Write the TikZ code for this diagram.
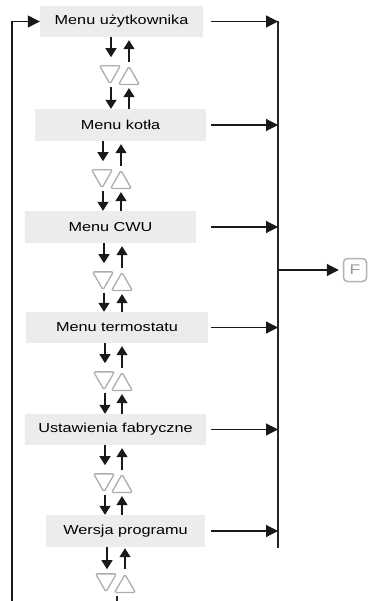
\documentclass[tikz,border=0pt]{standalone}
\usepackage{fontspec}
\setmainfont[FakeStretch=1.25]{Liberation Sans}
\usetikzlibrary{arrows.meta, calc, shapes.geometric}
\tikzset{
  mnbox/.style={rectangle, fill=gray!15, minimum height=31pt, inner sep=0pt, font=\fontsize{13}{14}\selectfont},
  mntri/.style={regular polygon, regular polygon sides=3, draw=black!32, line width=1.3pt, minimum size=24pt, inner sep=0pt, rounded corners=1.5pt, anchor=north},
  mndown/.style={mntri, shape border rotate=180},
  mnup/.style={mntri},
  mnstep/.style={-{Triangle[length=9pt, width=11pt]}, line width=1.3pt, draw=black!90},
  mnarrow/.style={-{Triangle[length=12pt, width=12pt]}, line width=1.2pt, draw=black!90},
  mnline/.style={line width=1.3pt, draw=black!85},
  mnkey/.style={rectangle, rounded corners=4pt, draw=black!30, line width=1.5pt, minimum width=23pt, minimum height=23pt, inner sep=0pt, text=black!40, font=\fontsize{14}{14}\selectfont},
}

\begin{document}
\begin{tikzpicture}[x=1pt, y=-1pt]
  \useasboundingbox (0,0) rectangle (368,601);

  % Menu entries.
  \node[mnbox, minimum width=163pt] (m1) at (121.5,21.5) {Menu użytkownika};
  \node[mnbox, minimum width=171pt, minimum height=32pt] (m2) at (120.5,125) {Menu kotła};
  \node[mnbox, minimum width=171pt, minimum height=32pt] (m3) at (110.5,227) {Menu CWU};
  \node[mnbox, minimum width=182pt] (m4) at (117,327.5) {Menu termostatu};
  \node[mnbox, minimum width=181pt] (m5) at (115.5,429.5) {Ustawienia fabryczne};
  \node[mnbox, minimum width=159pt, minimum height=32pt] (m6) at (125.5,531) {Wersja programu};

  % Up/down keys between entries.
  \foreach \a/\b/\xd/\xu [count=\i] in {m1/m2/111/129, m2/m3/103/121, m3/m4/104/122, m4/m5/105/122, m5/m6/105/122} {
    \coordinate (d\i) at (\xd,0);
    \coordinate (u\i) at (\xu,0);
    \node[mndown] (dt\i) at ($(\a.south -| d\i)+(-1,28)$) {};
    \node[mnup] (ut\i) at ($(\a.south -| u\i)+(0,28)$) {};
    \draw[mnstep] (\a.south -| d\i) -- ($(dt\i.north -| d\i)+(0,-8)$);
    \draw[mnstep] ($(dt\i.south -| d\i)+(0,2)$) -- (\b.north -| d\i);
    \draw[mnstep] ($(ut\i.north)+(0,-3)$) -- ($(\a.south -| u\i)+(0,3)$);
    \draw[mnstep] (\b.north -| u\i) -- ($(ut\i.south)+(0,3)$);
  }

  % Keys below the last entry.
  \coordinate (d6) at (107,0);
  \coordinate (u6) at (125,0);
  \coordinate (tail) at (117,601);
  \node[mndown] (dt6) at ($(m6.south -| d6)+(-1,26)$) {};
  \node[mnup] (ut6) at ($(m6.south -| u6)+(0,26)$) {};
  \draw[mnstep] (m6.south -| d6) -- ($(dt6.north -| d6)+(0,-4)$);
  \draw[mnstep] ($(ut6.north)+(0,-4)$) -- ($(m6.south -| u6)+(0,1)$);
  \draw[mnline] ($(dt6.south -| tail)+(0,3)$) -- (tail);

  % Exit to F.
  \coordinate (ax) at (211,0);
  \coordinate (bx) at (278,0);
  \coordinate (busend) at (278,548);
  \foreach \i in {1,...,6}
    \draw[mnarrow] (m\i.east -| ax) -- (m\i.east -| bx);
  \draw[mnline] (m1.east -| bx) -- (busend);
  \node[mnkey] (F) at (355,270) {F};
  \draw[mnarrow, shorten >=4pt] (F.west -| bx) -- (F.west);

  % Loop back to the first entry.
  \coordinate (loop) at (12,601);
  \draw[mnarrow] (loop) |- (m1.west);
\end{tikzpicture}
\end{document}
